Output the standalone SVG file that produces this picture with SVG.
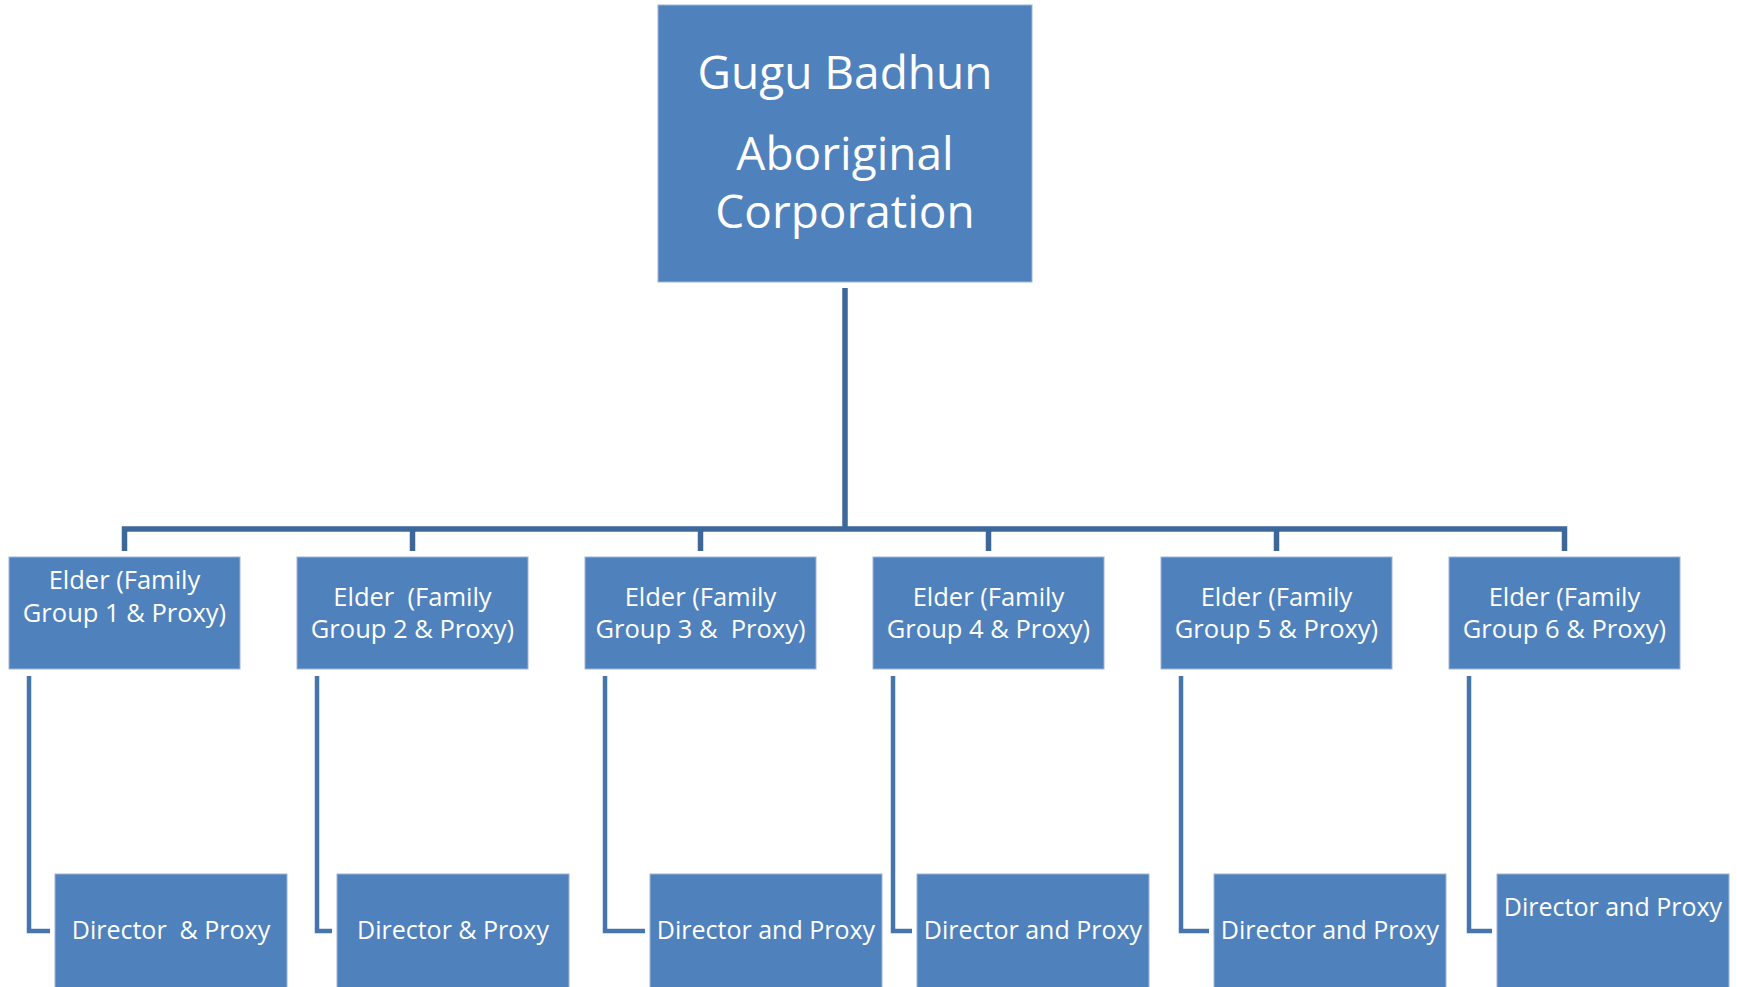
<svg xmlns="http://www.w3.org/2000/svg" width="1737" height="987" viewBox="0 0 1737 987">
  <style>
    .box { fill: #4F81BD; stroke: #9DB5D8; stroke-width: 1; }
    .lbl { fill: #FFFFFF; font-family: "Open Sans", "Liberation Sans", sans-serif; text-anchor: middle; }
    .title { font-size: 46px; }
    .elder { font-size: 25.5px; }
    .dir { font-size: 25px; }
    .trunk { fill: none; stroke: #3E6899; stroke-width: 5.5; stroke-linejoin: miter; }
    .branch { fill: none; stroke: #4675AD; stroke-width: 4.5; stroke-linejoin: miter; }
  </style>

  <!-- connectors -->
  <g id="connectors">
    <path class="trunk" d="M845 288 V529"/>
    <path class="trunk" d="M124.5 551 V529 H1564.5 V551"/>
    <path class="trunk" d="M412.5 529 V551 M700.5 529 V551 M988.5 529 V551 M1276.5 529 V551"/>
    <path class="branch" d="M29 676 V931 H50"/>
    <path class="branch" d="M317 676 V931 H332"/>
    <path class="branch" d="M605 676 V931 H645"/>
    <path class="branch" d="M893 676 V931 H912"/>
    <path class="branch" d="M1181 676 V931 H1209"/>
    <path class="branch" d="M1469 676 V931 H1492"/>
  </g>

  <!-- root -->
  <g id="root">
    <rect class="box" x="658" y="5" width="374" height="277"/>
    <text class="lbl title" x="845" y="89">Gugu Badhun</text>
    <text class="lbl title" x="845" y="170">Aboriginal</text>
    <text class="lbl title" x="845" y="228">Corporation</text>
  </g>

  <!-- elders -->
  <g id="elder1">
    <rect class="box" x="9" y="557" width="231" height="112"/>
    <text class="lbl elder" x="124.5" y="589">Elder (Family</text>
    <text class="lbl elder" x="124.5" y="622">Group 1 &amp; Proxy)</text>
  </g>
  <g id="elder2">
    <rect class="box" x="297" y="557" width="231" height="112"/>
    <text class="lbl elder" x="412.5" y="606" xml:space="preserve">Elder  (Family</text>
    <text class="lbl elder" x="412.5" y="638">Group 2 &amp; Proxy)</text>
  </g>
  <g id="elder3">
    <rect class="box" x="585" y="557" width="231" height="112"/>
    <text class="lbl elder" x="700.5" y="606">Elder (Family</text>
    <text class="lbl elder" x="700.5" y="638" xml:space="preserve">Group 3 &amp;  Proxy)</text>
  </g>
  <g id="elder4">
    <rect class="box" x="873" y="557" width="231" height="112"/>
    <text class="lbl elder" x="988.5" y="606">Elder (Family</text>
    <text class="lbl elder" x="988.5" y="638">Group 4 &amp; Proxy)</text>
  </g>
  <g id="elder5">
    <rect class="box" x="1161" y="557" width="231" height="112"/>
    <text class="lbl elder" x="1276.5" y="606">Elder (Family</text>
    <text class="lbl elder" x="1276.5" y="638">Group 5 &amp; Proxy)</text>
  </g>
  <g id="elder6">
    <rect class="box" x="1449" y="557" width="231" height="112"/>
    <text class="lbl elder" x="1564.5" y="606">Elder (Family</text>
    <text class="lbl elder" x="1564.5" y="638">Group 6 &amp; Proxy)</text>
  </g>

  <!-- directors -->
  <g id="director1">
    <rect class="box" x="55" y="874" width="232" height="120"/>
    <text class="lbl dir" x="171" y="939" xml:space="preserve">Director  &amp; Proxy</text>
  </g>
  <g id="director2">
    <rect class="box" x="337" y="874" width="232" height="120"/>
    <text class="lbl dir" x="453" y="939">Director &amp; Proxy</text>
  </g>
  <g id="director3">
    <rect class="box" x="650" y="874" width="232" height="120"/>
    <text class="lbl dir" x="766" y="939">Director and Proxy</text>
  </g>
  <g id="director4">
    <rect class="box" x="917" y="874" width="232" height="120"/>
    <text class="lbl dir" x="1033" y="939">Director and Proxy</text>
  </g>
  <g id="director5">
    <rect class="box" x="1214" y="874" width="232" height="120"/>
    <text class="lbl dir" x="1330" y="939">Director and Proxy</text>
  </g>
  <g id="director6">
    <rect class="box" x="1497" y="874" width="232" height="120"/>
    <text class="lbl dir" x="1613" y="916">Director and Proxy</text>
  </g>
</svg>
